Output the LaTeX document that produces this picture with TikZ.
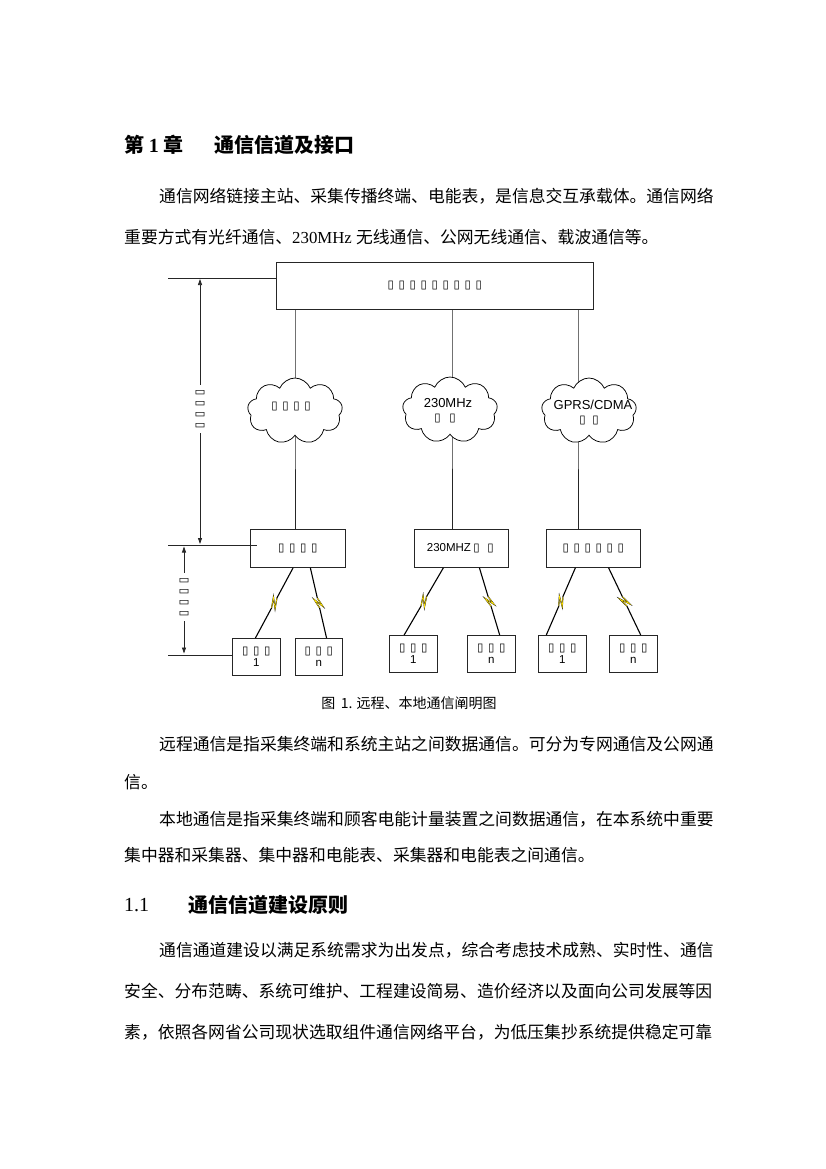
\documentclass[tikz,border=0pt]{standalone}
\usepackage{fontspec}
\setmainfont{Liberation Serif}
\setsansfont{Liberation Sans}
\newfontfamily\cjk{Noto Sans CJK SC}
\newfontfamily\dv{DejaVu Sans}
\usetikzlibrary{shapes.symbols,arrows.meta,calc,backgrounds}
\XeTeXlinebreaklocale "zh"
\XeTeXlinebreakskip=0pt plus 3pt
\newcommand\tb{\makebox[11pt]{\dv\fontsize{11.5}{11.5}\selectfont ▯}}
\newcommand\zaplink[2]{%
  \draw[zap] (#1) -- ($(#1)!0.43!(#2)$) -- ($(#1)!0.56!(#2)!3.5pt!90:(#2)$)
    -- ($(#1)!0.44!(#2)!3.5pt!-90:(#2)$) -- ($(#1)!0.57!(#2)$) -- (#2);
  \draw[zapy] ($(#1)!0.43!(#2)$) -- ($(#1)!0.56!(#2)!3.5pt!90:(#2)$)
    -- ($(#1)!0.44!(#2)!3.5pt!-90:(#2)$) -- ($(#1)!0.57!(#2)$);}
\tikzset{
  ln/.style={line width=0.75pt, draw=black!85},
  boxn/.style={draw=black!85, line width=0.8pt, inner sep=0pt, anchor=north west,
     font=\sffamily\fontsize{11.5}{13}\selectfont, align=center},
  cl/.style={cloud, draw=black, line width=0.75pt, fill=white, cloud puffs=9,
     cloud puff arc=135, aspect=1.45, minimum width=95pt, minimum height=66pt, inner sep=0pt},
  ctext/.style={font=\sffamily\fontsize{13}{15}\selectfont, inner sep=0pt},
  zap/.style={line width=1.1pt, draw=black, line join=miter},
  zapy/.style={line width=0.6pt, draw=yellow!85!orange},
  body/.style={anchor=west, inner sep=0pt, font=\cjk\fontsize{16.8}{20}\selectfont},
  head/.style={anchor=west, inner sep=0pt, font=\cjk\bfseries\fontsize{20}{24}\selectfont},
  tip/.style={-{Triangle[length=6pt,width=4pt]}},
}
\begin{document}
\begin{tikzpicture}[x=1pt,y=-1pt]
\begin{scope}[on background layer]
\fill[white] (0,0) rectangle (826,1169);
\end{scope}
\path[use as bounding box] (0,0) rectangle (826,1169);

% ---------- page text ----------
\node[head] (h1a) at (124,145) {第 {\rmfamily 1} 章};
\node[head] (h1b) at (214,145) {通信信道及接口};
\node[body] (t1) at (159,196) {\makebox[557pt][s]{通信网络链接主站、采集传播终端、电能表，是信息交互承载体。通信网络}};
\node[body] (t2) at (124,237) {重要方式有光纤通信、{\rmfamily 230MHz }无线通信、公网无线通信、载波通信等。};

% ---------- diagram ----------
\node[boxn, minimum width=317pt, minimum height=47pt] (top) at (276,262)
   {\tb\tb\tb\tb\tb\tb\tb\tb\tb};

\node[cl] (c1) at (295,411) {};
\node[cl] (c2) at (450,410) {};
\node[cl] (c3) at (589,411) {};
\node[ctext] (c1t) at (291,407) {\tb\tb\tb\tb};
\node[ctext] (c2ta) at (448,403) {230MHz};
\node[ctext] (c2tb) at (445,419) {\tb\hspace{4pt}\tb};
\node[ctext] (c3ta) at (593,405) {GPRS/CDMA};
\node[ctext] (c3tb) at (589,421) {\tb\hspace{2pt}\tb};

\node[boxn, minimum width=95pt, minimum height=38pt] (b1) at (250,529) {\tb\tb\tb\tb};
\node[boxn, minimum width=94pt, minimum height=38pt] (b2) at (414,529) {230MHZ\tb\hspace{3pt}\tb};
\node[boxn, minimum width=94pt, minimum height=38pt] (b3) at (546,529) {\tb\tb\tb\tb\tb\tb};

\node[boxn, minimum width=48pt, minimum height=37pt] (ma) at (232,638) {\tb\tb\tb\\[-1pt]1};
\node[boxn, minimum width=47pt, minimum height=37pt] (mb) at (295,638) {\tb\tb\tb\\[-1pt]n};
\node[boxn, minimum width=48pt, minimum height=37pt] (mc) at (389,635) {\tb\tb\tb\\[-1pt]1};
\node[boxn, minimum width=48pt, minimum height=37pt] (md) at (467,635) {\tb\tb\tb\\[-1pt]n};
\node[boxn, minimum width=48pt, minimum height=37pt] (me) at (538,635) {\tb\tb\tb\\[-1pt]1};
\node[boxn, minimum width=48pt, minimum height=37pt] (mf) at (609,635) {\tb\tb\tb\\[-1pt]n};

% vertical trunk lines (behind the clouds)
\coordinate (X1) at (295,0);
\coordinate (X2) at (452,0);
\coordinate (X3) at (578,0);
\begin{scope}[on background layer]
\draw[ln] (top.south -| X1) -- (c1.center -| X1) -- (b1.north -| X1);
\draw[ln] (top.south -| X2) -- (c2.center -| X2) -- (b2.north -| X2);
\draw[ln] (top.south -| X3) -- (c3.center -| X3) -- (b3.north -| X3);
\end{scope}

% radio links
\coordinate (s1) at ($(b1.south west)!0.45!(b1.south east)$);
\coordinate (s2) at ($(b1.south west)!0.63!(b1.south east)$);
\coordinate (s3) at ($(b2.south west)!0.31!(b2.south east)$);
\coordinate (s4) at ($(b2.south west)!0.69!(b2.south east)$);
\coordinate (s5) at ($(b3.south west)!0.31!(b3.south east)$);
\coordinate (s6) at ($(b3.south west)!0.66!(b3.south east)$);
\coordinate (e1) at ($(ma.north west)!0.48!(ma.north east)$);
\coordinate (e2) at ($(mb.north west)!0.66!(mb.north east)$);
\coordinate (e3) at ($(mc.north west)!0.31!(mc.north east)$);
\coordinate (e4) at ($(md.north west)!0.67!(md.north east)$);
\coordinate (e5) at ($(me.north west)!0.17!(me.north east)$);
\coordinate (e6) at ($(mf.north west)!0.65!(mf.north east)$);
\zaplink{s1}{e1}
\zaplink{s2}{e2}
\zaplink{s3}{e3}
\zaplink{s4}{e4}
\zaplink{s5}{e5}
\zaplink{s6}{e6}

% left dimension lines
\coordinate (H1) at (168,278);
\coordinate (H2) at (168,545);
\coordinate (H3) at (168,655);
\draw[ln] (H1) -- (H1 -| top.west);
\draw[ln] (H2) -- ($(H2 -| b1.west)+(7,0)$);
\draw[ln] (H3) -- (H3 -| ma.west);
\node[rotate=-90, inner sep=2pt] (v1) at (200,409) {\tb\tb\tb\tb};
\node[rotate=-90, inner sep=2pt] (v2) at (184,597) {\tb\tb\tb\tb};
\draw[ln, tip] (v1.west) -- ($(H1 -| v1)+(0,1)$);
\draw[ln, tip] (v1.east) -- ($(H2 -| v1)+(0,-1)$);
\draw[ln, tip] (v2.west) -- ($(H2 -| v2)+(0,1.5)$);
\draw[ln, tip] (v2.east) -- ($(H3 -| v2)+(0,-1.5)$);

% caption
\node[inner sep=0pt, font=\cjk\fontsize{14}{16}\selectfont] (cap) at (409,703) {图 \,1. 远程、本地通信阐明图};

% ---------- page text below ----------
\node[body] (t3) at (159,744) {\makebox[557pt][s]{远程通信是指采集终端和系统主站之间数据通信。可分为专网通信及公网通}};
\node[body] (t4) at (124,782) {信。};
\node[body] (t5) at (159,819) {\makebox[557pt][s]{本地通信是指采集终端和顾客电能计量装置之间数据通信，在本系统中重要}};
\node[body] (t6) at (124,855) {集中器和采集器、集中器和电能表、采集器和电能表之间通信。};
\node[head, font=\rmfamily\fontsize{20}{24}\selectfont] (h2a) at (124,905) {1.1};
\node[head] (h2b) at (188,905) {通信信道建设原则};
\node[body] (t7) at (159,950) {\makebox[557pt][s]{通信通道建设以满足系统需求为出发点，综合考虑技术成熟、实时性、通信}};
\node[body] (t8) at (124,991) {\makebox[592pt][s]{安全、分布范畴、系统可维护、工程建设简易、造价经济以及面向公司发展等因}};
\node[body] (t9) at (124,1032) {\makebox[592pt][s]{素，依照各网省公司现状选取组件通信网络平台，为低压集抄系统提供稳定可靠}};
\end{tikzpicture}
\end{document}
